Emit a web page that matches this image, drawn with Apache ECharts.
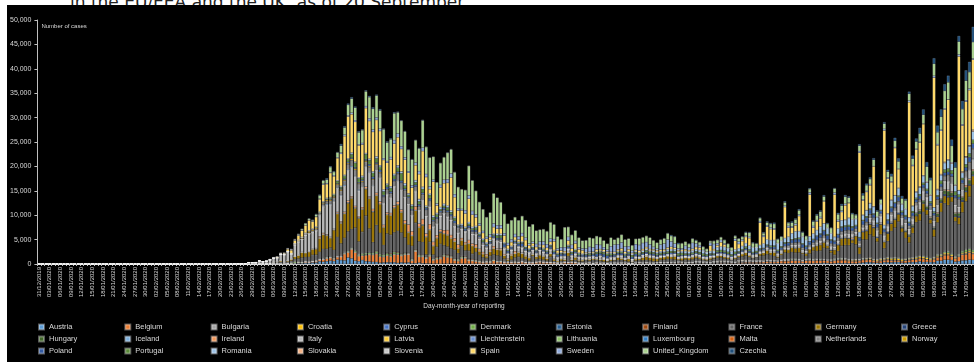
<!DOCTYPE html>
<html>
<head>
<meta charset="utf-8">
<script src="https://cdn.jsdelivr.net/npm/echarts/dist/echarts.min.js"></script>
<style>
  html, body { margin: 0; padding: 0; background: #fff; overflow: hidden; width: 974px; height: 362px; position: relative; }
  #title { position: absolute; left: 70px; top: -8px; font: 17px/20px "DejaVu Sans", sans-serif; color: #222; white-space: nowrap; }
  #chart { position: absolute; left: 7px; top: 5px; width: 980px; height: 357px; background: #000; }
</style>
</head>
<body>
<div id="title">in the EU/EEA and the UK, as of 20 September</div>
<div id="chart"></div>
<script>
// countries in the stacking / legend order
const countries = ['Austria', 'Belgium', 'Bulgaria', 'Croatia', 'Cyprus', 'Denmark', 'Estonia', 'Finland', 'France', 'Germany', 'Greece',
  'Hungary', 'Iceland', 'Ireland', 'Italy', 'Latvia', 'Liechtenstein', 'Lithuania', 'Luxembourg', 'Malta', 'Netherlands', 'Norway',
  'Poland', 'Portugal', 'Romania', 'Slovakia', 'Slovenia', 'Spain', 'Sweden', 'United_Kingdom', 'Czechia'];

const colors = ['#5B9BD5', '#ED7D31', '#A5A5A5', '#FFC000', '#4472C4', '#70AD47', '#255E91', '#9E480E', '#636363', '#997300', '#264478',
  '#43682B', '#7CAFDD', '#F1975A', '#B7B7B7', '#FFCD33', '#698ED0', '#8CC168', '#327DC2', '#D26012', '#848484', '#CC9A00',
  '#335AA1', '#5A8A39', '#9DC3E6', '#F4B183', '#C9C9C9', '#FFD966', '#8FAADC', '#A9D18E', '#1F4E79'];

// daily cases, one chunk per period: 25-29 Feb, Mar, Apr, May, Jun, Jul, Aug, 1-20 Sep
// (31 Dec - 24 Feb: no visible cases)
const austria = [
  [0,2,0,1,0],
  [4,4,6,6,14,14,25,20,32,51,69,115,143,151,205,202,314,314,550,453,563,668,594,892,800,750,1321,1141,668,564,805],
  [564,522,418,396,241,312,332,329,343,206,315,247,312,139,154,261,136,116,101,78,72,40,93,65,108,96,58,73,64,48],
  [45,60,45,40,32,55,48,58,46,30,20,40,38,45,32,24,22,20,35,38,42,33,25,18,40,32,48,35,30,18,28],
  [36,40,42,45,38,41,20,25,50,42,40,35,40,25,20,30,36,52,40,28,40,44,61,58,68,62,54,100,58,49],
  [61,69,94,88,72,56,70,91,116,120,131,102,88,78,115,99,120,110,114,105,95,122,125,138,118,140,122,100,113,156,122],
  [190,165,166,101,128,140,155,212,184,116,136,192,157,179,135,136,128,204,275,360,345,272,240,198,349,333,326,389,390,245,246],
  [337,376,361,523,381,410,394,345,664,668,858,864,806,483,566,729,757,869,834,705]
];
const belgium = [
  [0,0,0,0,0],
  [1,0,6,5,25,59,60,31,39,28,47,85,160,130,197,172,185,243,309,462,558,586,342,526,668,1298,1049,1850,1702,1063,876],
  [1189,1384,1422,1661,1260,1123,1380,1209,1580,1684,1351,1629,1629,530,2454,1236,1329,1045,1487,701,933,1032,1496,1329,1137,647,553,1069,1142,660],
  [600,455,361,288,323,287,639,350,376,310,285,264,296,271,373,248,197,214,323,342,294,280,228,198,131,163,301,234,305,239,142],
  [90,130,142,89,141,121,110,96,79,86,114,95,119,75,49,88,124,87,105,112,82,80,95,90,88,97,101,121,115,74],
  [71,98,104,88,99,80,60,94,108,150,140,118,110,100,151,190,222,230,211,217,246,298,357,283,301,342,488,470,479,528,547],
  [448,389,496,575,515,572,528,472,466,414,513,576,612,587,476,436,419,420,543,464,511,393,336,399,410,480,375,352,313,318,420],
  [437,495,545,612,656,466,404,589,688,776,919,948,726,641,891,1153,1215,1431,1220,1050]
];
const bulgaria = [
  [0,0,0,0,0],
  [0,0,0,0,0,0,0,4,0,2,0,1,16,8,10,0,30,11,14,26,15,24,38,16,22,22,20,16,12,17,40],
  [40,35,24,23,26,52,19,28,8,61,35,33,23,15,15,32,50,20,52,44,38,61,48,46,78,37,76,60,58,21],
  [52,37,30,28,41,15,12,37,25,26,30,39,22,9,21,36,22,15,22,53,28,16,27,17,19,24,11,18,28,34,27],
  [36,30,51,20,46,33,72,15,66,87,54,92,62,52,36,127,105,93,113,66,61,101,144,97,130,112,107,158,115,77],
  [165,130,238,240,213,191,111,233,217,202,227,286,211,168,293,300,330,252,265,281,284,126,249,213,192,95,169,278,211,176,194],
  [172,71,233,250,193,186,117,108,72,194,209,190,175,152,88,75,168,155,152,98,88,54,44,150,169,142,131,92,63,53,110],
  [175,134,144,106,96,79,36,130,142,147,159,120,84,46,171,166,199,165,139,85]
];
const croatia = [
  [0,1,2,0,0],
  [1,2,2,0,1,1,1,1,0,2,0,5,5,9,12,17,8,22,39,16,78,48,71,67,61,80,53,71,67,78,96],
  [96,46,93,76,86,71,64,60,69,56,39,40,28,37,28,31,37,16,21,26,18,25,31,47,25,23,14,7,9,14],
  [14,32,15,6,5,11,10,3,5,3,7,4,0,2,6,0,5,1,3,0,2,1,3,1,2,0,1,0,0,3,0],
  [2,0,1,0,3,0,1,2,2,1,1,3,1,2,3,6,8,4,16,11,30,50,34,42,40,67,95,52,96,57],
  [28,65,71,64,53,76,51,67,96,116,89,60,39,56,102,143,102,76,59,40,43,52,53,61,40,30,22,30,40,60,50],
  [43,29,27,18,32,56,76,88,67,36,59,88,107,110,142,153,175,103,94,159,224,175,205,243,150,238,283,303,337,298,158],
  [159,179,277,293,334,319,214,166,224,205,305,309,262,176,103,205,270,273,253,220]
];
const cyprus = [
  [0,0,0,0,0],
  [0,0,0,0,0,0,0,0,2,4,0,0,4,4,9,3,13,21,9,17,11,9,20,16,8,24,14,16,30,9,23],
  [52,12,21,30,28,18,32,38,48,36,25,18,29,31,2,11,13,17,21,19,11,12,17,7,9,6,4,5,4,5],
  [5,9,5,2,1,3,2,4,6,1,2,3,1,1,0,2,4,1,0,1,1,1,0,3,2,0,3,2,0,0,2],
  [2,1,0,0,3,0,1,1,4,1,1,1,4,0,1,1,2,0,2,1,3,2,1,2,1,1,3,1,2,0],
  [1,0,2,2,5,3,4,7,2,4,4,3,1,0,5,1,4,4,3,2,5,3,4,4,5,3,3,4,9,13,11],
  [16,6,5,9,20,10,28,13,15,28,14,23,11,12,20,28,14,18,19,12,8,13,7,14,18,10,20,17,8,9,10],
  [12,14,8,15,10,16,18,17,14,21,11,13,8,12,10,21,26,18,28,9]
];
const denmark = [
  [0,0,0,1,0],
  [0,0,2,4,5,10,3,8,7,54,156,262,129,115,38,36,21,81,91,90,145,102,128,88,99,126,175,149,241,188,279],
  [283,279,248,353,335,292,298,312,390,233,184,178,95,177,145,302,170,177,200,161,187,157,189,210,154,169,217,236,153,156],
  [124,154,157,95,100,151,144,116,129,57,98,64,110,75,81,58,42,36,39,60,52,36,49,51,32,30,42,56,30,67,25],
  [27,11,39,25,43,33,20,13,32,52,28,37,24,32,21,12,38,25,22,30,27,45,21,43,43,60,32,28,21,14],
  [9,22,30,13,12,7,13,23,42,26,9,30,20,11,14,14,33,29,16,12,11,38,43,30,60,56,33,66,79,135,126],
  [71,57,95,133,116,66,110,78,70,108,141,121,131,88,85,86,68,60,121,102,82,91,105,105,118,122,142,166,145,131,110],
  [127,103,155,106,153,180,120,120,176,188,243,303,210,133,176,347,464,348,387,454]
];
const estonia = [
  [0,0,1,0,0],
  [0,0,0,1,1,5,2,1,0,0,4,11,8,51,36,43,33,62,9,90,40,19,32,24,17,34,50,45,30,31,24],
  [28,42,32,39,60,41,72,35,35,49,37,60,53,21,20,16,9,17,19,11,15,20,15,21,14,12,8,24,16,14],
  [7,7,6,5,3,8,2,5,3,5,5,3,5,4,10,10,2,4,3,1,3,3,1,6,2,4,0,4,3,1,1],
  [2,4,0,0,3,1,1,0,4,0,0,0,2,1,1,0,2,0,0,4,1,0,0,0,1,2,3,0,3,5],
  [1,3,4,2,1,5,3,3,1,1,4,3,2,0,0,4,3,6,3,4,2,1,3,2,0,2,0,0,4,7,12],
  [18,3,4,2,7,8,10,17,11,3,11,19,12,10,7,20,12,8,15,11,9,13,11,5,6,17,10,7,14,7,5],
  [11,8,9,13,5,11,25,13,11,31,23,15,6,19,5,31,28,30,58,15]
];
const finland = [
  [0,0,1,1,0],
  [0,3,0,0,8,4,4,0,0,5,10,40,50,46,72,37,56,41,39,53,71,69,89,56,95,83,62,45,86,56,76],
  [60,88,80,129,44,94,134,188,130,156,118,104,113,85,140,79,103,122,66,95,183,109,107,183,132,124,91,112,142,160],
  [172,100,102,103,78,56,74,74,31,77,80,12,61,73,52,58,51,54,47,25,40,38,50,31,26,24,12,47,49,23,37],
  [15,10,10,13,20,6,19,16,17,10,23,9,8,3,18,7,1,11,14,12,3,17,8,6,3,11,13,10,13,12],
  [5,6,10,5,6,8,4,1,2,3,12,3,7,5,5,1,13,5,3,8,6,6,3,8,4,12,11,5,6,12,23],
  [23,28,20,20,31,12,23,20,17,16,17,25,19,28,20,14,10,28,24,31,17,31,24,43,30,21,22,20,38,34,23],
  [21,10,35,50,51,63,22,19,44,40,89,53,60,46,40,61,81,56,62,45]
];
const france = [
  [2,0,3,20,19],
  [43,30,61,21,73,138,190,336,177,286,372,497,595,785,838,924,1210,1097,1404,1861,1617,1847,1559,3838,2446,2931,3922,3809,4611,2599,4376],
  [7578,4861,2116,5233,4267,1873,3912,3777,3881,4286,4342,3114,1613,2673,5497,2633,2641,405,2569,785,2051,2667,1827,1653,1537,1780,1180,2155,1170,1638],
  [1083,1600,1114,794,576,1104,1006,1109,1002,579,80,456,802,1000,652,563,350,1300,523,524,418,300,1100,250,115,358,200,1212,192,400,250],
  [300,550,350,600,500,400,250,300,350,450,550,500,400,300,200,400,450,480,500,450,300,200,500,550,650,600,500,350,300,600],
  [450,550,600,500,350,300,550,600,660,700,500,400,350,600,700,800,900,700,500,700,1000,1100,1150,1100,900,600,1000,1400,1300,1350,1250],
  [1377,1346,600,1039,1695,1604,1695,2288,2288,1399,785,1397,2524,2669,2846,3310,3015,1029,3776,3776,4771,4586,3602,4897,1955,3304,5429,6111,7379,5453,4233],
  [3082,4982,7017,7157,8975,8550,7071,4203,6544,8577,9843,9406,10561,7183,6158,7852,9784,10593,13215,13498]
];
const germany = [
  [0,1,4,5,13],
  [14,10,18,37,49,110,109,264,99,235,348,520,686,1059,867,1043,1174,1144,2800,2958,2705,1948,4062,4764,4118,4954,5780,6294,3965,4751,4615],
  [5453,6156,6174,6082,5936,3677,3834,4003,4974,5323,4133,2821,2537,2082,2486,2866,3380,3609,2458,1775,1785,2237,2352,2337,2055,1737,1018,1144,1304,1478],
  [1639,945,793,697,488,854,1284,1209,1251,667,357,933,798,933,913,620,583,342,513,797,745,460,638,431,289,432,353,741,286,620,286],
  [333,213,342,285,242,301,407,214,350,192,555,408,258,602,195,378,345,580,770,601,687,537,503,587,630,477,687,256,492,466],
  [466,503,446,422,239,300,397,298,442,395,378,360,159,336,351,534,583,395,201,159,454,569,815,527,781,305,340,633,684,902,870],
  [955,240,509,879,741,1045,1147,1122,555,436,966,1226,1445,1449,1415,625,1693,1390,1510,1707,2034,1737,782,2034,1278,1576,1507,1571,1479,782,1218],
  [1256,1218,1256,1397,1732,988,814,1499,1176,1892,1484,1630,1007,927,1407,2194,1916,2297,1821,1345]
];
const greece = [
  [0,0,1,2,4],
  [0,0,0,2,21,14,28,2,11,7,5,9,20,26,38,49,21,80,31,32,78,46,94,71,52,71,106,71,73,95,56],
  [102,46,129,43,40,25,62,18,54,77,21,34,19,20,25,23,46,19,10,17,47,156,23,11,25,14,17,11,13,25],
  [15,20,15,16,4,9,11,14,15,12,21,4,16,15,9,10,11,7,8,22,8,7,12,21,6,3,2,21,10,17,28],
  [0,0,13,18,17,11,15,21,14,10,9,12,7,20,15,8,9,23,13,32,35,33,4,10,14,35,33,16,9,12],
  [21,17,45,21,36,24,18,15,33,27,35,48,28,12,21,15,31,12,45,14,27,20,33,26,34,37,39,63,58,87,110],
  [111,75,110,69,74,124,153,102,126,203,151,262,156,228,182,230,190,231,236,269,251,284,226,208,187,293,250,168,284,219,144],
  [148,169,181,200,151,263,187,178,148,250,372,351,262,196,277,314,248,305,273,342]
];
const hungary = [
  [0,0,0,0,0],
  [0,0,0,0,2,2,0,3,5,2,1,3,3,6,7,11,16,19,30,17,18,28,21,17,35,19,40,43,36,39,45],
  [29,60,62,55,38,34,73,78,83,73,95,74,114,60,99,106,210,115,113,81,66,103,90,99,76,58,47,33,57,59],
  [35,32,35,42,31,53,23,40,29,26,24,21,31,20,41,35,29,15,12,35,20,10,22,21,9,21,14,15,15,8,17],
  [7,12,6,23,13,10,3,5,4,18,15,6,9,15,3,5,6,7,3,11,5,2,7,7,5,6,9,10,13,7],
  [7,10,13,19,9,8,5,9,15,10,12,7,3,9,13,14,20,15,11,9,14,15,23,20,14,16,17,29,35,27,20],
  [20,13,27,28,24,28,32,16,15,9,8,12,26,13,19,30,16,26,46,40,33,38,36,25,39,112,65,132,86,226,225],
  [227,292,460,510,399,436,210,236,520,494,773,916,655,516,592,589,768,809,811,930]
];
const iceland = [
  [0,0,0,0,0],
  [1,2,3,20,8,9,10,14,9,22,0,20,16,29,17,40,27,79,80,74,82,56,43,70,89,64,75,56,72,98,35],
  [26,75,47,30,28,26,20,25,27,13,14,12,9,3,2,6,10,4,1,8,1,7,2,3,2,0,2,1,0,2],
  [0,0,0,1,0,0,0,0,0,0,1,0,1,2,0,0,0,1,0,1,0,0,0,0,0,0,0,1,2,1,0],
  [0,2,1,0,1,1,1,1,2,3,1,0,1,3,1,2,1,0,4,1,3,2,0,1,2,0,0,1,2,0],
  [1,2,4,3,4,1,0,1,3,4,2,3,2,2,1,1,1,5,4,2,4,6,4,10,16,8,8,9,13,7,5],
  [10,7,6,7,5,5,5,6,7,6,8,4,6,6,4,3,5,3,5,4,1,2,1,3,4,1,3,1,0,1,2],
  [3,1,2,1,2,1,2,4,2,3,7,4,9,11,17,20,31,21,35,20]
];
const ireland = [
  [0,0,0,0,1],
  [0,0,1,4,7,5,10,3,4,10,9,27,20,43,39,40,74,53,235,199,126,100,102,219,204,235,302,255,294,200,295],
  [325,212,402,424,390,370,331,345,365,500,430,553,1514,832,727,657,1068,548,1042,724,493,388,631,936,577,577,701,376,345,631],
  [376,577,420,330,331,265,403,160,236,229,159,180,426,88,124,107,107,54,64,58,59,46,52,84,64,31,37,59,45,40,57],
  [77,38,39,16,52,59,40,42,17,15,24,25,24,22,10,22,23,7,24,16,20,22,8,12,8,10,4,14,23,9],
  [1,11,24,17,6,6,17,10,23,9,10,3,24,31,36,19,20,8,10,19,18,25,21,26,40,11,14,24,18,29,85],
  [38,14,16,27,58,46,174,68,53,67,75,30,36,66,56,200,74,67,131,93,134,156,60,124,56,72,80,89,76,61,53],
  [78,94,94,159,98,95,168,119,229,137,182,255,197,157,153,176,357,240,253,390]
];
const italy = [
  [79,93,78,250,238],
  [240,566,342,466,587,769,778,1247,1492,1797,977,2313,2651,2547,3497,3590,3233,3526,4207,5322,5986,6557,5560,4789,5249,5210,6203,5909,5974,5217,4050],
  [4053,4782,4668,4585,4805,4316,3599,3039,3836,4204,3951,4694,4092,3153,2972,2667,3786,3493,3491,3047,2256,2729,3370,2646,3021,2357,2324,1739,2091,2086],
  [1872,1965,1900,1389,1221,1075,1444,1401,1327,1083,802,744,1402,888,992,789,875,675,451,813,665,642,652,669,531,300,397,584,593,516,416],
  [355,178,318,321,177,518,270,197,280,283,202,379,163,346,338,301,210,329,333,251,262,224,221,113,190,296,259,175,174,126],
  [142,187,201,223,235,192,208,138,193,229,276,188,234,169,114,163,230,233,249,218,190,129,282,306,252,275,255,170,181,289,386],
  [379,295,239,159,190,384,402,552,347,463,259,412,481,523,574,629,479,320,403,642,845,947,1071,1210,953,878,1367,1411,1462,1444,1365],
  [996,978,1326,1397,1733,1695,1297,1108,1370,1434,1597,1616,1501,1458,1008,1229,1452,1585,1907,1638]
];
const latvia = [
  [0,0,0,0,0],
  [0,1,0,0,1,0,3,1,2,1,4,4,10,8,4,0,26,11,25,25,13,19,41,17,24,24,24,34,42,29,29],
  [22,20,21,15,16,17,8,13,25,24,28,26,13,14,13,10,39,13,7,12,21,9,16,17,9,5,12,4,10,5],
  [9,7,19,8,10,6,10,3,3,8,6,5,2,3,2,5,8,7,5,4,1,2,2,3,0,1,3,1,1,0,0],
  [1,3,1,1,0,5,4,9,0,0,3,1,3,0,2,0,5,0,4,1,1,2,1,0,2,0,1,0,1,5],
  [0,2,0,2,0,1,3,2,2,0,2,1,0,0,3,2,3,1,2,0,0,1,0,1,2,2,4,1,3,4,1],
  [4,3,2,1,5,4,6,7,10,9,8,7,14,9,8,6,4,10,5,6,3,5,6,4,7,5,2,2,4,5,3],
  [3,7,10,5,6,11,2,4,6,9,5,9,10,7,6,9,10,20,10,14]
];
const liechtenstein = [
  [0,0,0,0,0],
  [0,0,0,1,0,0,0,0,0,0,0,0,0,1,2,1,0,2,3,7,9,3,5,6,10,10,2,5,5,0,2],
  [2,3,2,1,4,0,0,2,2,0,1,0,0,0,1,1,0,0,0,0,0,0,1,0,0,0,0,0,0,0],
  [0,0,0,0,0,0,0,0,0,0,0,0,0,0,0,0,0,0,0,0,0,0,0,0,0,0,0,0,0,0,0],
  [0,0,0,0,0,0,0,0,0,0,0,0,0,0,0,0,0,0,0,0,0,0,0,0,0,0,1,0,1,0],
  [1,1,1,0,2,0,0,1,0,1,0,1,0,0,0,1,0,0,0,0,1,0,0,0,1,0,0,0,2,0,0],
  [1,0,0,0,1,0,0,1,1,0,0,0,0,1,2,0,0,1,0,2,0,1,2,0,0,1,0,1,0,0,2],
  [0,1,0,1,0,2,0,1,3,1,1,2,0,0,3,2,2,1,0,2]
];
const lithuania = [
  [0,0,0,1,0],
  [0,0,0,0,0,0,0,0,0,0,0,2,3,3,1,2,9,7,10,13,8,28,62,34,60,25,40,33,69,65,39],
  [77,45,75,60,33,40,47,41,44,73,32,43,43,40,79,26,69,47,23,25,20,19,21,32,11,22,34,39,19,9],
  [22,19,14,12,18,5,17,14,7,8,7,15,16,17,7,9,6,6,7,13,12,19,20,25,14,9,8,5,10,8,10],
  [4,18,10,16,4,12,4,5,2,4,4,8,3,6,5,5,2,5,5,5,0,3,3,5,0,2,4,6,10,7],
  [2,5,8,2,4,3,3,5,3,2,1,2,4,4,10,4,15,8,10,10,7,4,4,18,12,10,21,12,22,18,19],
  [22,15,10,9,26,31,21,31,32,17,11,32,25,24,35,21,36,26,22,34,35,33,30,19,20,30,16,49,37,16,21],
  [26,17,31,20,32,43,25,33,53,32,48,19,54,19,42,49,63,33,75,41]
];
const luxembourg = [
  [0,0,0,0,0],
  [1,0,0,0,1,1,1,0,0,2,2,1,26,8,25,18,59,58,68,110,186,128,152,143,125,224,186,234,116,172,116],
  [120,139,116,97,79,72,66,76,67,125,84,60,75,51,52,77,39,30,47,23,53,15,17,12,13,20,11,4,11,10],
  [7,11,10,5,3,12,12,3,10,5,3,12,7,7,7,7,2,7,5,3,2,2,2,3,7,5,2,3,4,6,7],
  [2,4,12,3,7,6,2,5,7,5,4,7,6,6,5,6,4,4,9,9,13,8,8,22,17,24,33,43,46,46],
  [59,36,68,43,54,44,53,53,66,79,81,81,56,83,53,72,77,51,74,86,85,110,108,88,99,101,80,83,75,82,85],
  [84,99,75,78,68,68,52,65,48,52,40,30,39,37,43,31,48,21,34,29,29,33,32,30,35,34,35,41,42,46,45],
  [46,57,68,67,61,55,33,55,62,42,64,58,43,45,38,72,76,83,69,41]
];
const malta = [
  [0,0,0,0,0],
  [0,0,0,0,0,0,2,1,0,0,1,1,2,0,8,4,8,8,5,8,12,17,14,11,19,10,10,10,7,10,16],
  [9,10,11,7,5,17,6,22,9,15,9,4,5,8,8,4,12,2,6,4,9,5,3,6,3,2,1,1,2,0],
  [1,4,2,0,0,0,3,0,3,1,2,1,2,0,0,3,1,1,0,0,2,5,10,6,7,4,11,6,14,2,4],
  [4,11,9,4,3,2,3,3,1,5,0,2,0,0,1,1,4,1,0,1,1,0,1,1,0,0,0,0,1,1],
  [1,2,1,0,0,0,3,2,2,0,4,1,1,0,4,4,4,5,4,2,1,5,5,2,2,3,4,3,7,2,7],
  [11,19,22,34,30,41,53,30,39,31,34,36,49,34,45,37,30,52,27,64,62,34,39,27,62,74,61,46,67,70,78],
  [78,44,31,52,46,62,23,61,37,61,84,39,65,48,38,26,33,49,87,78]
];
const netherlands = [
  [0,0,0,1,1],
  [5,8,6,5,14,44,46,60,77,56,61,121,111,190,155,176,278,292,346,409,534,637,573,545,811,852,1019,1172,1159,1104,884],
  [845,1019,1083,1026,904,1224,952,777,969,1213,1335,1316,1174,964,868,734,1061,1235,1141,1066,964,750,729,887,797,655,1066,400,171,400],
  [513,514,475,445,335,199,232,374,455,319,294,250,199,196,258,176,184,125,238,99,177,190,221,173,186,191,163,102,168,178,184],
  [209,176,158,79,160,203,171,157,198,185,147,120,171,184,98,135,115,80,62,120,110,110,66,52,47,103,70,82,58,50],
  [57,47,38,57,57,56,58,34,75,48,86,77,70,85,84,95,122,119,134,138,183,170,190,212,203,221,278,259,388,382,410],
  [409,441,329,405,390,452,551,559,494,562,577,627,577,591,691,690,603,538,575,586,604,526,593,543,616,430,438,499,498,533,617],
  [578,620,578,529,638,630,867,1013,1024,753,911,1228,1321,1365,1511,1236,1231,1541,1985,1972]
];
const norway = [
  [0,0,0,1,0],
  [5,4,5,7,30,33,23,25,26,28,110,130,239,207,100,300,214,240,100,201,259,240,236,201,277,221,200,328,300,162,223],
  [250,205,190,160,183,105,94,85,98,120,85,65,39,50,65,81,78,77,62,57,74,54,80,64,49,42,38,40,60,52],
  [39,39,15,13,37,25,20,31,30,20,13,24,20,29,30,15,11,10,12,18,4,12,15,10,12,7,6,10,15,20,12],
  [12,11,20,25,23,15,8,10,19,24,31,24,17,11,9,14,12,16,20,10,12,15,17,10,20,15,10,13,22,20],
  [8,7,9,10,6,7,4,14,16,6,9,8,5,6,8,12,10,14,8,20,15,24,20,18,32,26,16,27,23,24,70],
  [51,46,28,29,45,69,70,91,84,40,24,38,54,56,64,49,33,24,31,106,119,63,41,23,52,42,69,91,106,69,34],
  [25,45,72,94,66,50,50,44,92,78,120,104,88,90,61,74,103,115,140,104]
];
const poland = [
  [0,0,0,0,0],
  [0,0,0,0,1,4,0,6,6,11,5,9,17,17,36,49,51,60,36,106,102,111,98,115,152,170,249,168,224,193,256],
  [243,392,437,244,475,311,435,357,370,380,401,318,268,260,380,336,311,344,545,263,313,306,380,350,337,460,214,276,356,401],
  [316,381,319,203,313,302,356,307,330,595,361,343,281,417,595,381,233,325,292,334,270,346,443,416,382,395,395,380,276,317,271],
  [292,379,230,360,576,395,599,575,282,359,376,440,317,328,407,506,287,314,351,302,363,300,243,373,205,317,311,261,238,234],
  [325,229,264,236,243,262,299,193,290,290,358,299,239,286,286,299,337,358,289,304,253,322,293,348,418,337,443,512,584,615,657],
  [658,680,512,680,548,726,658,809,843,617,595,664,832,729,713,631,548,599,811,903,887,661,736,594,574,728,887,900,903,550,581],
  [567,653,597,629,618,566,449,447,596,575,624,601,568,506,445,673,679,1002,1003,1002]
];
const portugal = [
  [0,0,0,0,0],
  [0,0,2,0,2,3,4,8,9,9,11,18,19,34,57,76,86,117,194,143,235,260,320,460,302,633,549,724,902,792,446],
  [1035,808,783,852,638,754,452,712,699,815,1516,598,349,598,507,643,750,181,657,521,516,295,371,603,444,595,163,92,183,344],
  [305,480,295,418,163,178,240,533,553,138,226,98,187,234,219,265,204,227,175,223,288,228,252,252,257,163,165,219,304,350,316],
  [98,200,366,195,331,366,377,382,346,192,294,288,294,300,375,346,294,294,366,417,323,328,329,259,367,345,311,451,457,266],
  [229,313,328,374,413,328,232,229,375,443,342,402,319,443,232,259,375,339,234,312,252,135,194,313,232,252,265,263,135,167,232],
  [278,204,212,106,193,140,186,193,278,213,136,131,192,279,325,290,224,179,160,290,235,202,200,172,121,195,233,218,269,325,323],
  [221,335,297,373,387,401,396,330,279,646,620,687,673,770,495,395,613,770,780,770]
];
const romania = [
  [0,0,1,0,2],
  [0,0,0,0,1,2,2,0,0,10,1,21,2,11,34,37,56,29,14,69,30,51,45,143,186,144,123,263,160,192,308],
  [180,271,245,338,245,360,193,295,308,361,312,441,235,224,382,375,414,240,287,330,287,436,393,385,325,233,206,278,228,359],
  [342,327,340,269,321,280,240,380,299,203,217,190,184,226,186,256,240,247,189,225,178,144,193,182,135,179,144,164,245,195,207],
  [222,164,175,165,152,188,181,172,183,195,200,174,232,267,257,268,274,326,324,262,352,330,328,301,460,423,356,374,337,494],
  [420,449,389,422,503,422,464,555,614,698,777,662,615,458,603,614,698,767,889,698,659,886,1030,1112,1120,1284,1104,841,1083,1180,1356],
  [1295,1295,1145,958,1039,1089,1378,1295,1215,1145,733,1105,1232,1130,1410,1330,1200,995,961,1150,1060,1340,1145,1140,720,1107,1282,1312,1504,1301,1180],
  [836,1011,1142,1371,1401,1325,1190,786,1058,1149,1357,1713,1411,1189,790,1046,1391,1427,1713,1339]
];
const slovakia = [
  [0,0,0,0,0],
  [0,0,0,0,0,0,1,4,0,2,0,3,11,11,12,17,25,0,26,14,41,48,7,19,12,12,24,23,32,22,22],
  [27,37,20,40,46,21,35,49,45,114,80,36,114,73,66,57,34,31,18,49,41,35,42,30,39,23,21,9,15,6],
  [10,10,6,6,5,6,12,6,7,8,2,1,5,3,5,3,5,2,2,2,2,1,0,0,1,6,3,1,3,1,0],
  [4,5,7,1,14,3,2,15,3,6,5,10,8,8,7,7,6,11,1,1,17,16,12,10,18,5,17,12,13,20],
  [4,14,19,10,9,11,13,14,22,21,18,16,21,17,12,21,15,18,23,11,19,18,15,29,25,30,31,27,41,30,47],
  [45,37,26,52,48,31,25,64,36,60,58,34,37,70,59,65,47,22,75,91,70,123,87,69,49,103,101,93,61,73,86],
  [123,100,121,159,111,150,160,84,155,162,170,149,156,131,91,186,165,161,260,141]
];
const slovenia = [
  [0,0,0,0,0],
  [0,0,0,0,1,5,2,4,8,6,9,23,29,48,58,34,25,33,42,48,29,62,30,26,46,42,49,54,59,15,47],
  [42,36,46,48,21,40,24,32,14,35,23,30,24,28,8,44,36,12,6,4,10,14,7,7,9,3,7,7,7,6],
  [4,4,1,1,2,1,0,5,6,3,2,3,2,4,4,0,3,1,2,1,0,0,2,2,2,1,1,0,0,0,3],
  [0,0,0,0,2,1,0,4,0,0,3,4,1,10,10,4,9,4,7,6,12,6,15,14,40,13,16,5,8,24],
  [7,18,9,26,13,6,4,17,18,14,8,4,5,21,8,11,6,4,8,11,12,12,10,5,9,7,1,6,17,21,14],
  [14,9,3,15,17,16,26,23,27,16,15,16,22,14,16,15,13,14,31,20,30,29,27,6,5,26,28,28,33,34,8],
  [16,22,38,40,39,34,38,10,48,55,51,55,88,66,41,74,109,96,83,67]
];
const spain = [
  [0,2,5,8,17],
  [13,39,36,45,57,37,141,100,173,400,622,582,869,1266,1522,2000,1438,1987,2538,3431,2833,4946,3646,4517,6584,7937,8578,7871,8189,6549,6398],
  [9222,7719,8102,7472,7026,6023,4273,5478,6180,5756,4576,4830,4167,3477,3045,5103,7304,5891,887,6948,1536,3968,4211,4635,6740,3995,2870,2793,2706,4771],
  [2470,1781,1366,1147,712,545,1318,996,1122,1410,721,772,621,439,1086,1220,643,539,516,200,600,482,518,1787,502,372,300,859,510,1137,658],
  [664,201,137,219,394,318,332,240,167,249,314,502,323,396,181,219,355,307,363,300,250,334,323,337,338,426,300,280,250,344],
  [297,296,464,500,0,0,1093,341,383,853,455,0,0,1781,875,1000,1273,1540,0,0,4581,1358,2615,2255,2161,0,0,6361,1828,1153,1229],
  [3092,0,0,8532,1178,1772,1683,4507,0,0,8618,1418,1690,2935,2987,0,0,16269,2935,3715,3650,8148,0,0,19382,7117,3594,9658,3829,0,0],
  [23572,8115,8581,8959,10476,0,0,26560,8964,8866,10764,12183,0,0,27404,9437,11193,11291,14389,0]
];
const sweden = [
  [0,0,1,0,5],
  [2,1,16,28,35,41,36,43,49,107,145,155,139,126,60,90,120,93,124,180,183,161,201,172,233,300,246,290,339,219,314],
  [402,556,476,520,466,375,339,485,733,722,554,466,332,465,497,614,676,606,563,392,387,545,682,751,812,610,463,286,695,681],
  [790,562,460,401,405,593,737,705,642,487,466,562,602,663,625,460,339,317,617,685,695,747,658,440,396,638,804,773,774,523,428],
  [381,763,1016,882,1056,859,529,390,1139,1474,1056,1239,1047,636,453,1155,1168,1239,1017,963,493,305,1026,1168,1610,1112,840,381,310,700],
  [560,1229,746,483,230,140,580,1050,440,480,270,120,78,420,480,310,240,250,100,50,330,300,290,270,250,80,50,250,360,250,330],
  [270,90,30,460,370,280,270,120,30,40,410,320,280,290,100,40,40,320,240,200,240,70,30,20,320,250,170,190,70,30,20],
  [300,200,150,180,100,60,20,380,240,200,240,80,40,30,400,260,300,300,200,40]
];
const unitedKingdom = [
  [0,0,0,2,5],
  [12,4,11,34,30,48,43,67,48,61,50,87,134,208,342,251,152,407,676,643,714,1035,665,967,1427,1452,2129,2885,2546,2433,2619],
  [3009,4324,4244,4450,3735,5903,3802,3634,5491,4344,5195,5288,4342,5252,4603,4617,5599,5525,5850,4676,4301,4451,4583,5386,4913,4463,4309,3996,4076,6032],
  [6201,4806,4339,4406,3985,4406,6111,5614,4649,3896,3923,3877,3403,3242,3446,3560,3450,3534,2684,2412,2472,2615,3287,2959,2405,1625,4043,2004,2013,2095,1936],
  [1570,1653,1871,1805,1650,1557,1326,1205,1741,1003,1266,1541,1425,1514,1056,1056,1279,1115,1218,1346,1295,1221,958,1024,1247,1118,1380,890,1006,815],
  [689,829,576,544,624,516,352,581,630,512,642,820,650,530,598,538,642,827,796,726,580,445,560,769,880,767,747,685,581,763,846],
  [880,771,744,670,892,950,1062,871,758,1062,816,1148,1009,1441,1012,1040,713,1089,812,1182,1033,1288,1041,853,1041,1184,1048,1276,1522,1108,1715],
  [1406,1295,1508,1735,1813,2988,2948,2460,2420,2659,3539,3497,3330,3497,2621,3105,3991,3395,3395,4322]
];
const czechia = [
  [0,0,0,0,0],
  [3,0,2,0,3,7,7,6,8,15,31,26,45,33,37,102,115,136,170,112,294,186,173,120,367,287,291,318,268,257,168],
  [232,267,321,235,270,178,256,197,224,170,132,137,120,139,105,144,147,110,99,57,33,84,88,113,102,100,33,47,81,48],
  [47,40,42,28,31,26,43,27,46,41,18,22,32,39,33,32,55,17,30,59,31,73,88,89,113,27,15,45,53,57,54],
  [11,38,49,41,25,42,29,17,45,32,56,81,68,64,41,20,43,75,76,66,65,48,93,116,107,208,168,260,86,80],
  [118,122,153,62,109,75,52,95,75,76,92,84,71,122,96,120,188,170,168,143,133,223,247,225,290,123,112,247,192,256,229],
  [254,179,72,188,228,267,286,284,232,116,150,297,365,369,278,241,194,320,432,348,365,348,252,196,341,373,526,636,648,504,338],
  [466,650,636,1164,1116,936,509,1160,1385,1541,1382,1374,1306,1090,1170,1672,2137,2111,3119,2285]
];

const countryData = [austria, belgium, bulgaria, croatia, cyprus, denmark, estonia, finland, france, germany, greece,
  hungary, iceland, ireland, italy, latvia, liechtenstein, lithuania, luxembourg, malta, netherlands, norway,
  poland, portugal, romania, slovakia, slovenia, spain, sweden, unitedKingdom, czechia];

// first day index of each chunk (31/12/2019 = 0) and chunk lengths
const chunkStart = [56, 61, 92, 122, 153, 183, 214, 245];
const chunkLen = [5, 31, 30, 31, 30, 31, 31, 20];
const dayCount = 265;

const yTicks = [0, 5000, 10000, 15000, 20000, 25000, 30000, 35000, 40000, 45000, 50000];

// date labels 31/12/2019 .. 20/09/2020
const pad2 = n => (n < 10 ? '0' : '') + n;
const dateLabels = [];
for (let i = 0; i < dayCount; i++) {
  const d = new Date(2019, 11, 31 + i);
  dateLabels.push(pad2(d.getDate()) + '/' + pad2(d.getMonth() + 1) + '/' + d.getFullYear());
}

function toDaily(chunks) {
  const out = new Array(dayCount).fill(0);
  chunks.forEach((c, m) => {
    c.forEach((v, k) => { if (k < chunkLen[m]) out[chunkStart[m] + k] = v; });
  });
  return out;
}

const txt = '#d9d9d9';
const font = 'Liberation Sans';

var legends = [];
for (let c = 0; c < 11; c++) {
  legends.push({
    orient: 'vertical',
    left: 31 + c * 86.3,
    top: 318,
    padding: 0,
    height: 36,
    itemWidth: 5,
    itemHeight: 5,
    itemGap: 4,
    icon: 'rect',
    selectedMode: false,
    textStyle: { color: txt, fontSize: 7.5, fontFamily: font, lineHeight: 8 },
    data: [countries[c], countries[c + 11], countries[c + 22]].filter(Boolean)
  });
}

var chart = echarts.init(document.getElementById('chart'));
var option = {
  backgroundColor: '#000',
  animation: false,
  color: colors,
  // x axis title, placed below the rotated date labels
  title: {
    text: 'Day-month-year of reporting',
    left: 457,
    top: 298,
    padding: 0,
    textAlign: 'center',
    textStyle: { color: txt, fontSize: 6.5, fontWeight: 'normal', fontFamily: font }
  },
  legend: legends,
  grid: { left: 28, right: 8.6, top: 15, bottom: 98 },
  xAxis: {
    type: 'category',
    data: dateLabels,
    axisLine: { lineStyle: { color: '#bfbfbf', width: 1 } },
    axisTick: { show: true, interval: 0, length: 2, lineStyle: { color: '#bfbfbf' } },
    axisLabel: { interval: 2, rotate: 90, fontSize: 6, color: txt, fontFamily: font, margin: 3 }
  },
  yAxis: {
    type: 'value',
    min: yTicks[0],
    max: yTicks[yTicks.length - 1],
    interval: 5000,
    name: 'Number of cases',
    nameLocation: 'end',
    nameGap: -3,
    nameTextStyle: { color: txt, fontSize: 6, fontFamily: font, align: 'left', verticalAlign: 'top', padding: [0, 0, 0, 4] },
    axisLine: { show: true, lineStyle: { color: '#bfbfbf', width: 1 } },
    axisTick: { show: true, length: 3, lineStyle: { color: '#bfbfbf' } },
    splitLine: { show: false },
    axisLabel: { color: txt, fontSize: 7, fontFamily: font, margin: 6 }
  },
  series: countries.map((name, i) => ({
    name: name,
    type: 'bar',
    stack: 'cases',
    barCategoryGap: '20%',
    data: toDaily(countryData[i]),
    itemStyle: { color: colors[i], borderColor: 'rgba(255,255,255,0.35)', borderWidth: 0.4 },
    emphasis: { disabled: true }
  }))
};
chart.setOption(option);
</script>
</body>
</html>
